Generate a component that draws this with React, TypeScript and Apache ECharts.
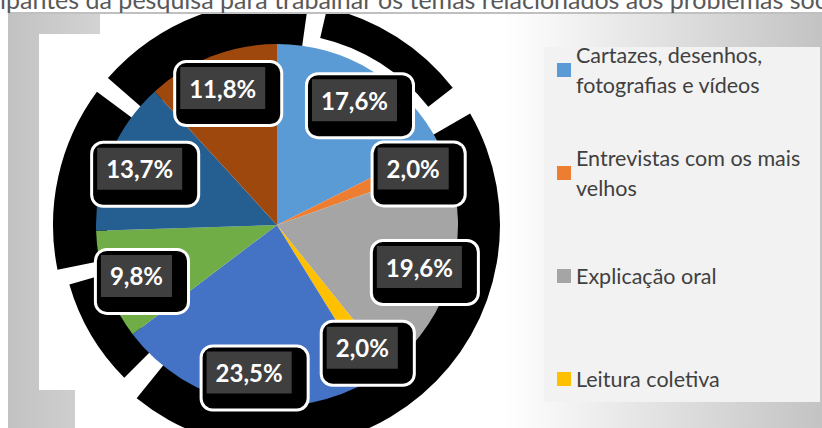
import { useEffect, useRef } from 'react';
import * as echarts from 'echarts';

// ---- data ----
const categories = [
  'Cartazes, desenhos, fotografias e vídeos',
  'Entrevistas com os mais velhos',
  'Explicação oral',
  'Leitura coletiva',
  'Categoria 5',
  'Categoria 6',
  'Categoria 7',
  'Categoria 8',
];
const percentages = [17.6, 2.0, 19.6, 2.0, 23.5, 9.8, 13.7, 11.8];
const sliceColors = ['#5B9BD5', '#ED7D31', '#A5A5A5', '#FFC000', '#4472C4', '#70AD47', '#255E91', '#9E480E'];
const legendLabels = [
  'Cartazes, desenhos,\nfotografias e vídeos',
  'Entrevistas com os mais\nvelhos',
  'Explicação oral',
  'Leitura coletiva',
];
const titleFragment = 'ipantes da pesquisa para trabalhar os temas relacionados aos problemas soc';

// decorative black shadow blobs around the pie (degrees clockwise from 12 o'clock)
const shadowBlobs = [
  { from: 13, to: 52, r0: 192, r: 223 },
  { from: 60, to: 219, r0: 170, r: 223 },
  { from: 225, to: 254, r0: 170, r: 216 },
  { from: 258.5, to: 306.5, r0: 170, r: 224 },
  { from: 311, to: 368, r0: 170, r: 224 },
];

export default function App() {
  const ref = useRef<HTMLDivElement>(null);
  useEffect(() => {
    const chart = echarts.init(ref.current!, null, { renderer: 'svg' });
    const cx = 277;
    const cy = 225;
    const R = 181;
    const font = 'Lato';
    const rad = (d: number) => ((d - 90) * Math.PI) / 180;
    const fmt = (v: number) => v.toFixed(1).replace('.', ',') + '%';

    const data = categories.map((name, i) => ({
      name,
      value: percentages[i],
      itemStyle: { color: sliceColors[i] },
    }));

    const legendData = legendLabels.map((t, i) => {
      const lines = t.split('\n').length;
      return { name: categories[i], textStyle: { padding: [30, 0, (2 - lines) * 30, 0] } };
    });

    const graphic: any[] = [
      {
        type: 'rect',
        z: 0,
        silent: true,
        shape: { x: 8, y: 13, width: 814, height: 415 },
        style: {
          fill: new echarts.graphic.LinearGradient(0, 0, 1, 0, [
            { offset: 0, color: '#c2c2c2' },
            { offset: 0.12, color: '#d4d4d4' },
            { offset: 0.61, color: '#ffffff' },
            { offset: 1, color: '#c3c3c3' },
          ]),
        },
      },
      { type: 'rect', z: 0, silent: true, shape: { x: 100, y: 13, width: 405, height: 21 }, style: { fill: '#fff' } },
      { type: 'rect', z: 0, silent: true, shape: { x: 39, y: 34, width: 466, height: 356 }, style: { fill: '#fff' } },
      { type: 'rect', z: 0, silent: true, shape: { x: 75, y: 390, width: 430, height: 38 }, style: { fill: '#fff' } },
      { type: 'rect', z: 2, silent: true, shape: { x: 544, y: 47, width: 276, height: 355 }, style: { fill: '#f2f2f2' } },
      ...shadowBlobs.map((b) => ({
        type: 'sector',
        z: 1,
        silent: true,
        shape: { cx, cy, r0: b.r0, r: b.r, startAngle: rad(b.from), endAngle: rad(b.to), clockwise: true },
        style: { fill: '#000' },
      })),
      { type: 'rect', z: 5, silent: true, shape: { x: 0, y: 0, width: 822, height: 12 }, style: { fill: '#fff' } },
      {
        type: 'line',
        z: 5,
        silent: true,
        shape: { x1: 8, y1: 13, x2: 822, y2: 13 },
        style: { stroke: '#c0c0c0', lineWidth: 2 },
      },
      {
        type: 'text',
        z: 6,
        silent: true,
        x: 0,
        y: -1,
        style: {
          text: titleFragment,
          fill: '#595959',
          fontSize: 25,
          fontFamily: font,
          align: 'left',
          verticalAlign: 'middle',
        },
      },
    ];

    chart.setOption({
      animation: false,
      graphic,
      legend: {
        orient: 'vertical',
        left: 557,
        top: 25,
        padding: 0,
        itemGap: 13,
        itemWidth: 14,
        itemHeight: 14,
        icon: 'rect',
        selectedMode: false,
        data: legendData,
        formatter: (name: string) => legendLabels[categories.indexOf(name)],
        textStyle: { fontFamily: font, fontSize: 21.5, color: '#404040', lineHeight: 30 },
      },
      series: [
        {
          type: 'pie',
          center: [cx, cy],
          radius: [0, R],
          startAngle: 90,
          clockwise: true,
          silent: true,
          z: 3,
          data,
          label: { show: false },
          labelLine: { show: false },
          itemStyle: { borderWidth: 0 },
        },
        {
          type: 'pie',
          center: [cx, cy],
          radius: [110, R],
          startAngle: 90,
          clockwise: true,
          silent: true,
          z: 4,
          legendHoverLink: false,
          data: data.map((d) => ({ ...d, itemStyle: { color: 'rgba(0,0,0,0)' } })),
          labelLine: { show: false },
          labelLayout: { dx: 5, dy: 7 },
          label: {
            show: true,
            position: 'inside',
            formatter: (p: any) => `{g|${fmt(p.value)}}`,
            backgroundColor: '#000',
            borderColor: '#fff',
            borderWidth: 3,
            borderRadius: 10,
            padding: [4, 15, 15, 4],
            rich: {
              g: {
                backgroundColor: '#3f3f3f',
                color: '#fff',
                fontFamily: font,
                fontWeight: 'bold',
                fontSize: 24,
                lineHeight: 42,
                height: 42,
                padding: [0, 9],
                align: 'center',
              },
            },
          },
        },
      ],
    });
    return () => chart.dispose();
  }, []);
  return (
    <div
      ref={ref}
      style={{ position: 'fixed', left: 0, top: 0, width: 822, height: 428, background: '#fff' }}
    />
  );
}
